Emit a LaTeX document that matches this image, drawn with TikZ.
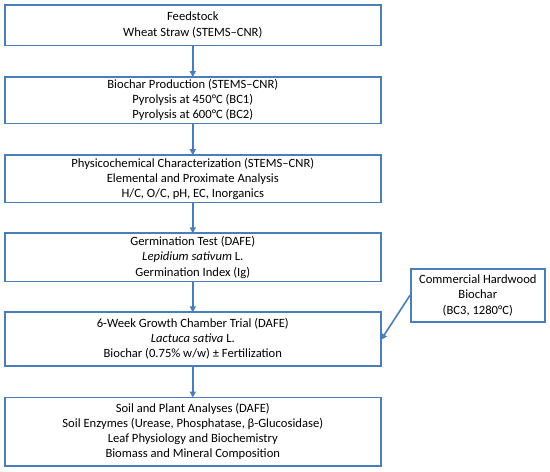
\documentclass[tikz,border=0pt]{standalone}
\usepackage{fontspec}
\setmainfont{Carlito}
\usetikzlibrary{positioning,arrows.meta}
\definecolor{boxBlue}{RGB}{74,126,187}

\begin{document}
\begin{tikzpicture}[x=1pt, y=1pt,
    stepBox/.style={draw=boxBlue, line width=1.6pt, minimum width=376pt, align=center, inner sep=1pt, font=\fontsize{12.6}{15.2}\selectfont},
    sideBox/.style={stepBox, minimum width=134pt, minimum height=53pt},
    flowArrow/.style={-{Triangle[length=6pt, width=6pt]}, draw=boxBlue, line width=1.6pt, shorten >=-1pt}
  ]
  \useasboundingbox (0,0) rectangle (550,-472);

  % Main chain
  \node[stepBox, minimum height=40.5pt, anchor=north west] (feed) at (4,-4)
    {Feedstock\\Wheat Straw (STEMS--CNR)};
  \node[stepBox, minimum height=46.5pt, below=30pt of feed] (prod)
    {Biochar Production (STEMS--CNR)\\Pyrolysis at 450°C (BC1)\\Pyrolysis at 600°C (BC2)};
  \node[stepBox, minimum height=47.5pt, below=30pt of prod] (chem)
    {Physicochemical Characterization (STEMS--CNR)\\Elemental and Proximate Analysis\\H/C, O/C, pH, EC, Inorganics};
  \node[stepBox, minimum height=48.5pt, below=29pt of chem] (germ)
    {Germination Test (DAFE)\\\textit{Lepidium sativum} L.\\Germination Index (Ig)};
  \node[stepBox, minimum height=53.5pt, below=29pt of germ] (trial)
    {6-Week Growth Chamber Trial (DAFE)\\\textit{Lactuca sativa} L.\\Biochar (0.75\% w/w) ± Fertilization};
  \node[stepBox, minimum height=68.5pt, below=30pt of trial] (soil)
    {Soil and Plant Analyses (DAFE)\\Soil Enzymes (Urease, Phosphatase, β-Glucosidase)\\Leaf Physiology and Biochemistry\\Biomass and Mineral Composition};

  % Side input
  \node[sideBox, anchor=north west] (bc3) at (410,-268)
    {Commercial Hardwood\\Biochar\\(BC3, 1280°C)};

  % Arrows
  \draw[flowArrow] (feed) -- (prod);
  \draw[flowArrow] (prod) -- (chem);
  \draw[flowArrow] (chem) -- (germ);
  \draw[flowArrow] (germ) -- (trial);
  \draw[flowArrow] (trial) -- (soil);
  \draw[flowArrow] (bc3.west) -- (trial.east);

\end{tikzpicture}
\end{document}
